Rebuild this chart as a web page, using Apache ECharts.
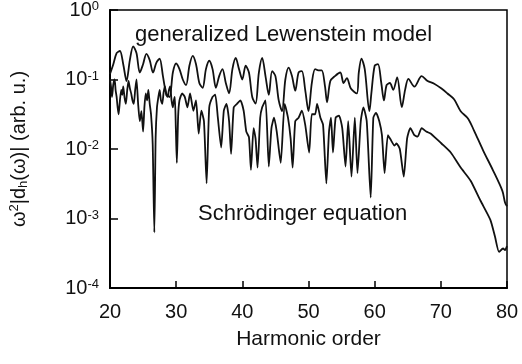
<!DOCTYPE html>
<html>
<head>
<meta charset="utf-8">
<script src="https://cdn.jsdelivr.net/npm/echarts@6/dist/echarts.min.js"></script>
<style>
  html, body { margin: 0; padding: 0; background: #fff; }
  #chart { width: 522px; height: 364px; }
</style>
</head>
<body>
<div id="chart"></div>
<script>
// Harmonic spectra: generalized Lewenstein model vs. Schrödinger equation
const glHarmonic = [20.0, 20.5, 21.0, 21.5, 22.0, 22.5, 23.0, 23.5, 24.0, 24.5, 25.0, 25.5, 26.0, 26.5, 27.0, 27.5,
  28.0, 28.5, 29.0, 29.5, 30.0, 30.5, 31.0, 31.5, 32.0, 32.5, 33.0, 33.5, 34.0, 34.5, 35.0, 35.5, 36.0, 36.5,
  37.0, 37.5, 38.0, 38.5, 39.0, 39.5, 40.0, 40.5, 41.0, 41.5, 42.0, 42.5, 43.0, 43.5, 44.0, 44.5, 45.0, 45.5,
  46.0, 46.5, 47.0, 47.5, 48.0, 48.5, 49.0, 49.5, 50.0, 50.5, 51.0, 51.5, 52.0, 52.5, 52.8, 53.3, 54.0, 54.8,
  55.3, 55.8, 56.4, 57.3, 57.6, 58.0, 58.5, 59.2, 59.5, 60.0, 60.5, 61.0, 61.4, 61.8, 62.3, 62.8, 63.4, 64.1,
  64.6, 65.1, 66.0, 67.1, 68.0, 69.0, 70.1, 71.0, 72.0, 73.0, 74.1, 75.0, 76.4, 77.9, 79.3, 79.7, 80.0];
const glValue = [0.12, 0.166, 0.24, 0.257, 0.166, 0.095, 0.19, 0.30, 0.24, 0.126, 0.166, 0.234, 0.19, 0.126, 0.174, 0.20,
  0.112, 0.063, 0.056, 0.126, 0.17, 0.141, 0.10, 0.083, 0.158, 0.219, 0.166, 0.089, 0.076, 0.141, 0.186, 0.141, 0.076, 0.112,
  0.141, 0.089, 0.063, 0.141, 0.204, 0.141, 0.10, 0.158, 0.126, 0.056, 0.045, 0.126, 0.204, 0.112, 0.06, 0.132, 0.112, 0.05,
  0.035, 0.10, 0.148, 0.112, 0.069, 0.126, 0.132, 0.071, 0.035, 0.089, 0.141, 0.135, 0.135, 0.079, 0.047, 0.095, 0.112, 0.126,
  0.089, 0.105, 0.074, 0.063, 0.126, 0.20, 0.141, 0.035, 0.063, 0.158, 0.166, 0.089, 0.05, 0.083, 0.089, 0.071, 0.107, 0.04,
  0.071, 0.102, 0.079, 0.112, 0.095, 0.087, 0.074, 0.063, 0.052, 0.035, 0.0275, 0.0186, 0.0095, 0.0049, 0.0025, 0.0017, 0.0015];

const seHarmonic = [20.0, 20.15, 20.3, 20.5, 20.7, 20.85, 21.0, 21.15, 21.3, 21.5, 21.7, 21.85, 22.0, 22.2, 22.4, 22.6,
  22.8, 23.0, 23.2, 23.4, 23.6, 23.8, 24.0, 24.25, 24.5, 24.75, 25.0, 25.2, 25.4, 25.6, 25.8, 26.0, 26.2, 26.45,
  26.7, 26.9, 27.1, 27.3, 27.5, 27.7, 27.9, 28.1, 28.3, 28.5, 28.7, 28.9, 29.1, 29.3, 29.5, 29.65, 29.8, 29.95,
  30.1, 30.3, 30.5, 30.9, 31.3, 31.7, 32.1, 32.6, 33.0,
  33.4, 33.8, 34.2, 34.6, 35.0, 35.5, 35.9, 36.3, 36.8, 37.2, 37.6, 38.0, 38.3, 38.7, 39.2, 39.7, 40.2, 40.6,
  41.0, 41.3, 41.7, 42.0, 42.3, 42.7, 43.0, 43.5, 44.0, 44.4, 44.8, 45.2, 45.8, 46.4, 46.9, 47.3, 47.6, 48.0,
  48.5, 49.0, 49.5, 50.1, 50.5, 51.0, 51.3, 51.8, 52.2, 52.7, 53.1, 53.4, 53.7, 54.1, 54.6, 55.1, 55.6, 56.0,
  56.5, 57.0, 57.4, 57.9, 58.3, 58.8, 59.4, 59.8, 60.2, 60.7, 61.1, 61.5, 62.0, 62.5, 63.0, 63.3, 63.8, 64.4,
  64.9, 65.4, 66.0, 66.5, 67.1, 67.8, 68.5, 69.3, 70.1, 71.5, 73.0, 74.5, 76.0, 77.5, 78.2, 78.8, 79.4, 79.7, 80.0];
const seValue = [0.1, 0.079, 0.0562, 0.085, 0.1, 0.07, 0.0562, 0.04, 0.0316, 0.05, 0.0708, 0.06, 0.0794, 0.055, 0.0447, 0.07,
  0.0955, 0.075, 0.0631, 0.05, 0.0447, 0.07, 0.1, 0.045, 0.0251, 0.035, 0.0178, 0.04, 0.0631, 0.05, 0.0708, 0.045, 0.0316, 0.012,
  0.00063, 0.015, 0.0398, 0.055, 0.0708, 0.05, 0.0447, 0.065, 0.0794, 0.06, 0.0562, 0.07, 0.0794, 0.05, 0.0398, 0.05, 0.0562, 0.02,
  0.0063, 0.03, 0.0501, 0.0631, 0.0562, 0.0398, 0.0631, 0.0355, 0.0501,
  0.0166, 0.0355, 0.0251, 0.0032, 0.0398, 0.0562, 0.0603, 0.0282, 0.0105, 0.0355, 0.0447, 0.0251, 0.0085, 0.0398, 0.0447, 0.0501, 0.0355, 0.0178,
  0.0148, 0.005, 0.02, 0.0141, 0.0054, 0.0282, 0.0398, 0.0501, 0.0056, 0.02, 0.0282, 0.0178, 0.0063, 0.0447, 0.0282, 0.0141, 0.0054, 0.0251,
  0.0282, 0.0355, 0.0224, 0.0089, 0.0316, 0.0316, 0.0447, 0.0282, 0.0224, 0.0032, 0.0178, 0.0282, 0.0089, 0.0282, 0.0302, 0.02, 0.0056, 0.0251,
  0.004, 0.0282, 0.0045, 0.0251, 0.0398, 0.0251, 0.002, 0.0282, 0.0331, 0.0251, 0.0158, 0.0045, 0.0158, 0.0132, 0.0112, 0.012, 0.01, 0.004,
  0.0141, 0.02, 0.0158, 0.0151, 0.02, 0.0178, 0.0166, 0.0141, 0.012, 0.0089, 0.0054, 0.0035, 0.0018, 0.00095, 0.00054, 0.00033, 0.00037, 0.00035, 0.0004];

const xTicks = { min: 20, max: 80, step: 10 };
const yRange = { min: 0.0001, max: 1 };

const labelGL = 'generalized Lewenstein model';
const labelSE = 'Schrödinger equation';

function pairs(xs, ys) { return xs.map((x, i) => [x, ys[i]]); }

const FONT = '"Liberation Sans", Arial, Helvetica, sans-serif';
const chart = echarts.init(document.getElementById('chart'), null, { renderer: 'canvas' });

chart.setOption({
  animation: false,
  backgroundColor: '#fff',
  grid: { left: 103, right: 15, top: 9, bottom: 76, show: true, borderColor: '#000', borderWidth: 1.5 },
  xAxis: {
    type: 'value', min: xTicks.min, max: xTicks.max, interval: xTicks.step,
    name: 'Harmonic order', nameLocation: 'middle', nameGap: 41,
    nameTextStyle: { fontFamily: FONT, fontSize: 21, color: '#111' },
    axisLine: { lineStyle: { color: '#000', width: 2 } },
    axisTick: { inside: true, length: 7, lineStyle: { color: '#000', width: 1.5 } },
    axisLabel: { fontFamily: FONT, fontSize: 20, color: '#111', margin: 14 },
    splitLine: { show: false }
  },
  yAxis: {
    type: 'log', logBase: 10, min: yRange.min, max: yRange.max,
    name: 'ω{sup|2}|d{sub|h}(ω)| (arb. u.)', nameLocation: 'middle', nameGap: 80,
    nameTextStyle: {
      fontFamily: FONT, fontSize: 20, color: '#111', lineHeight: 22,
      rich: {
        sup: { fontFamily: FONT, fontSize: 13, lineHeight: 12, verticalAlign: 'top', color: '#111' },
        sub: { fontFamily: FONT, fontSize: 13, lineHeight: 10, verticalAlign: 'bottom', color: '#111' }
      }
    },
    axisLine: { lineStyle: { color: '#000', width: 2 } },
    axisTick: { inside: true, length: 8, lineStyle: { color: '#000', width: 1.5 } },
    axisLabel: {
      margin: 11, color: '#111',
      formatter: v => '{b|10}{sup|' + Math.round(Math.log10(v)) + '}',
      rich: {
        b: { fontFamily: FONT, fontSize: 20, lineHeight: 20, color: '#111' },
        sup: { fontFamily: FONT, fontSize: 13, lineHeight: 12, verticalAlign: 'top', color: '#111' }
      }
    },
    splitLine: { show: false }
  },
  series: [
    {
      name: labelGL, type: 'line', data: pairs(glHarmonic, glValue),
      showSymbol: false, smooth: 0.3,
      lineStyle: { color: '#111', width: 1.8 }
    },
    {
      name: labelSE, type: 'line', data: pairs(seHarmonic, seValue),
      showSymbol: false, smooth: 0.2,
      lineStyle: { color: '#111', width: 1.8 }
    }
  ],
  graphic: [
    { type: 'text', left: 135, top: 24, style: { text: labelGL, font: '22px ' + FONT, fill: '#111' } },
    { type: 'text', left: 198, top: 203, style: { text: labelSE, font: '22px ' + FONT, fill: '#111' } }
  ]
});
</script>
</body>
</html>
